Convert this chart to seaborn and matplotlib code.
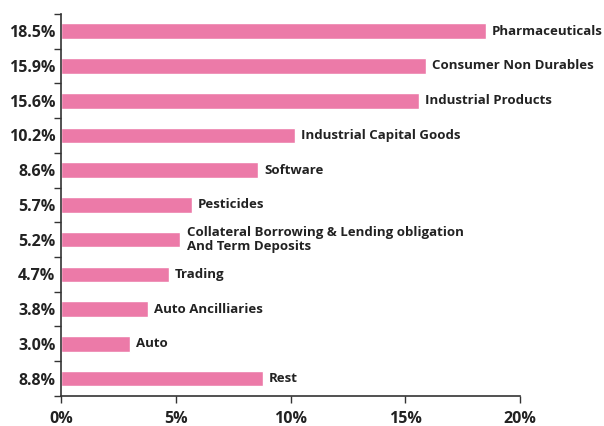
import pandas as pd
import matplotlib.pyplot as plt
import seaborn as sns

sectors = [
    "Pharmaceuticals",
    "Consumer Non Durables",
    "Industrial Products",
    "Industrial Capital Goods",
    "Software",
    "Pesticides",
    "Collateral Borrowing & Lending obligation\nAnd Term Deposits",
    "Trading",
    "Auto Ancilliaries",
    "Auto",
    "Rest",
]
weights = [18.5, 15.9, 15.6, 10.2, 8.6, 5.7, 5.2, 4.7, 3.8, 3.0, 8.8]
x_ticks = [0, 5, 10, 15, 20]

df = pd.DataFrame({"sector": sectors, "weight": weights})

sns.set_style("white", {"xtick.bottom": True, "ytick.left": True})
plt.rcParams["font.family"] = ["Open Sans", "DejaVu Sans"]

fig = plt.figure(figsize=(6.04, 4.26), dpi=100)
ax = fig.add_axes([0.101, 0.0705, 0.76, 0.897])

sns.barplot(data=df, y="sector", x="weight", color="#EC7AA8", width=0.45,
            saturation=1, orient="h", ax=ax)

n = len(sectors)
ax.set_xlim(0, 20)
ax.set_ylim(n - 0.5, -0.5)
ax.set_xticks(x_ticks)
ax.set_xticklabels([f"{t}%" for t in x_ticks], fontsize=11.5, fontweight="bold",
                   color="#222222")
ax.set_yticks(range(n))
ax.set_yticklabels([f"{w:.1f}%" for w in weights], fontsize=11.5,
                   fontweight="bold", color="#222222")
ax.tick_params(axis="y", which="major", length=0, pad=4)
ax.tick_params(axis="x", length=5, width=1, color="#333333", pad=6,
               direction="out", bottom=True)
# boundary ticks on the y axis
ax.set_yticks([i - 0.5 for i in range(n + 1)], minor=True)
ax.tick_params(axis="y", which="minor", length=5, width=1, color="#333333",
               direction="out", left=True)
ax.set_xlabel("")
ax.set_ylabel("")

for s in ["top", "right"]:
    ax.spines[s].set_visible(False)
for s in ["left", "bottom"]:
    ax.spines[s].set_color("#333333")
    ax.spines[s].set_linewidth(1.2)

for i, (w, lab) in enumerate(zip(weights, sectors)):
    ax.text(w + 0.27, i, lab, va="center", ha="left", fontsize=9.5,
            fontweight="bold", color="#222222", linespacing=1.05, clip_on=False)

fig.savefig("out.png", dpi=100)
